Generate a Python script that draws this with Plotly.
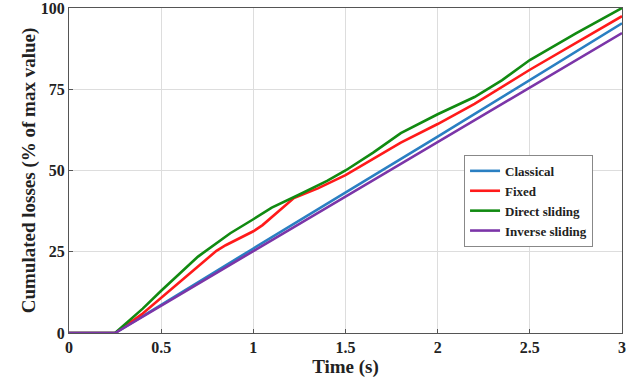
import plotly.graph_objects as go

t_classical = [0, 0.25, 1.0, 2.0, 3.0]
v_classical = [0, 0, 26.0, 60.4, 95.3]

t_fixed = [0, 0.25, 0.4, 0.5, 0.65, 0.8, 0.85, 1.0, 1.05, 1.15, 1.22, 1.35, 1.5, 1.65, 1.8, 2.0, 2.2, 2.5, 2.75, 3.0]
v_fixed = [0, 0, 6.0, 10.8, 18.0, 25.3, 27.0, 31.3, 33.2, 38.0, 41.5, 44.5, 48.6, 53.6, 58.6, 64.3, 70.5, 81.0, 89.3, 97.5]

t_direct = [0, 0.25, 0.4, 0.5, 0.7, 0.875, 1.0, 1.1, 1.25, 1.4, 1.5, 1.65, 1.8, 2.0, 2.2, 2.35, 2.5, 2.75, 3.0]
v_direct = [0, 0, 7.5, 13.0, 23.5, 30.7, 35.0, 38.6, 42.6, 46.8, 50.0, 55.5, 61.5, 67.3, 72.6, 77.8, 84.0, 92.2, 100.0]

t_inverse = [0, 0.25, 1.0, 2.0, 3.0]
v_inverse = [0, 0, 25.2, 58.7, 92.3]

names = ["Classical", "Fixed", "Direct sliding", "Inverse sliding"]
colors = ["#2a7fc2", "#ff1a1a", "#118a11", "#7b35a8"]
xs = [t_classical, t_fixed, t_direct, t_inverse]
ys = [v_classical, v_fixed, v_direct, v_inverse]

x_ticks = [0, 0.5, 1, 1.5, 2, 2.5, 3]
x_tick_labels = ["0", "0.5", "1", "1.5", "2", "2.5", "3"]
y_ticks = [0, 25, 50, 75, 100]

fig = go.Figure()
for n, c, x, y in zip(names, colors, xs, ys):
    fig.add_trace(go.Scatter(x=x, y=y, mode="lines", name=n,
                             line=dict(color=c, width=2.6)))

fig.update_layout(
    width=626, height=388,
    margin=dict(l=69, r=4, t=8, b=55),
    paper_bgcolor="white", plot_bgcolor="white",
    font=dict(family="Liberation Serif", color="#222222", size=16),
    showlegend=True,
    legend=dict(x=0.831, y=0.548, xanchor="center", yanchor="top",
                bgcolor="white", bordercolor="#888888", borderwidth=1,
                font=dict(family="Liberation Serif", size=13, color="#222222", weight="bold"),
                itemwidth=30, tracegroupgap=0),
)
fig.update_xaxes(range=[0, 3], tickvals=x_ticks, ticktext=["<b>%s</b>" % s for s in x_tick_labels],
                 showgrid=True, gridcolor="#dddddd", gridwidth=1,
                 showline=True, linecolor="#555555", linewidth=1, mirror=True,
                 ticks="inside", ticklen=4, tickcolor="#555555",
                 zeroline=False, automargin=False, ticklabeloverflow="allow",
                 title=dict(text="<b>Time (s)</b>", font=dict(size=19), standoff=2))
fig.update_yaxes(range=[0, 100], tickvals=y_ticks, ticktext=["<b>%d</b>" % v for v in y_ticks],
                 showgrid=True, gridcolor="#dddddd", gridwidth=1,
                 showline=True, linecolor="#555555", linewidth=1, mirror=True,
                 ticks="inside", ticklen=4, tickcolor="#555555",
                 zeroline=False, automargin=False, ticklabeloverflow="allow",
                 title=dict(text="<b>Cumulated losses (% of max value)</b>", font=dict(size=19), standoff=0))

fig.write_html("out.html")
